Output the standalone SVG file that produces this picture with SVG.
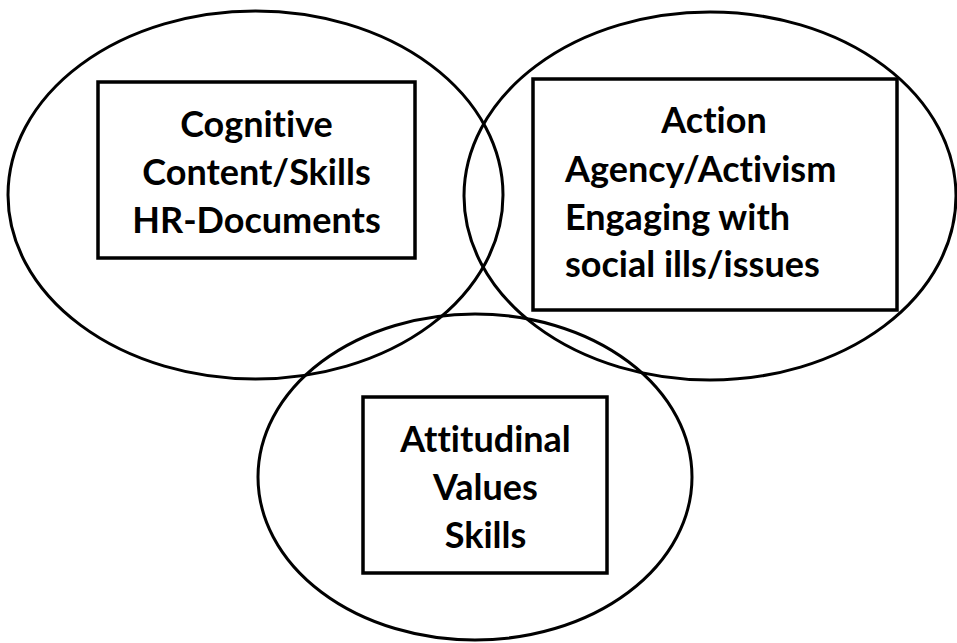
<svg xmlns="http://www.w3.org/2000/svg" width="957" height="643" viewBox="0 0 957 643">
<style>
.ell{fill:none;stroke:#000;stroke-width:3}
.box{fill:none;stroke:#000;stroke-width:3.5}
.t{font-family:Lato,"Liberation Sans",sans-serif;font-weight:bold;font-size:36px;fill:#000;font-variant-ligatures:none;font-feature-settings:"liga" 0,"clig" 0}
.c{text-anchor:middle}
</style>
<rect width="957" height="643" fill="#fff"/>
<g id="cognitive">
<ellipse class="ell" cx="255.5" cy="195" rx="247.5" ry="184"/>
<rect class="box" x="98" y="82" width="317" height="176"/>
<text class="t c" x="256.5" y="137">Cognitive</text>
<text class="t c" x="256.5" y="185">Content/Skills</text>
<text class="t c" x="256.5" y="233">HR-Documents</text>
</g>
<g id="action">
<ellipse class="ell" cx="710" cy="196" rx="246" ry="184"/>
<rect class="box" x="533" y="79" width="364" height="231"/>
<text class="t c" x="714" y="133">Action</text>
<text class="t" x="565" y="182">Agency/Activism</text>
<text class="t" x="565" y="230">Engaging with</text>
<text class="t" x="565" y="277">social ills/issues</text>
</g>
<g id="attitudinal">
<ellipse class="ell" cx="475" cy="477" rx="217" ry="163"/>
<rect class="box" x="363" y="397" width="244" height="176"/>
<text class="t c" x="485.5" y="452">Attitudinal</text>
<text class="t c" x="485.5" y="500">Values</text>
<text class="t c" x="485.5" y="548">Skills</text>
</g>
<g id="connectors"></g>
</svg>
